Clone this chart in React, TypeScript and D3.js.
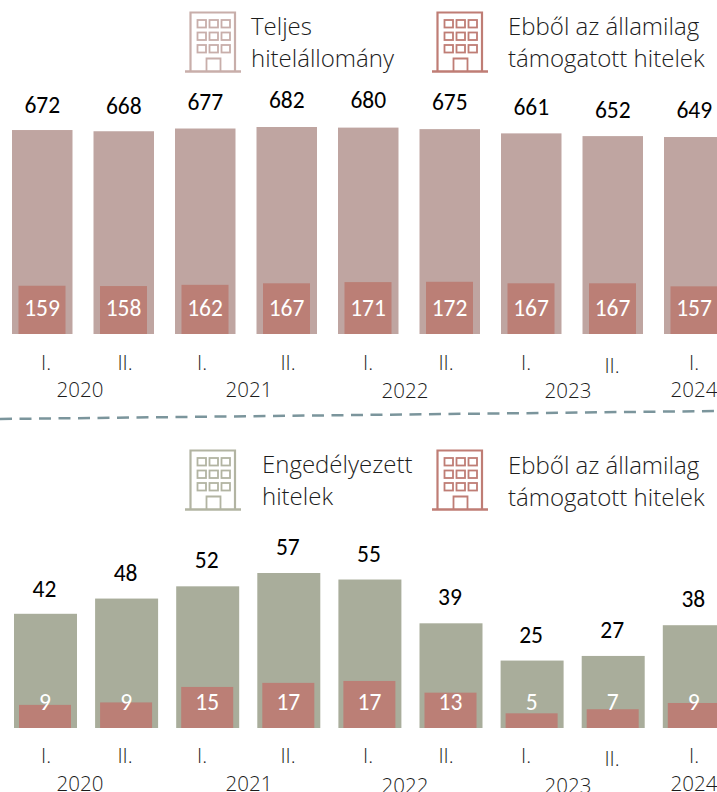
import React from "react";
import * as d3 from "d3";

const periods = ["2020 I.", "2020 II.", "2021 I.", "2021 II.", "2022 I.", "2022 II.", "2023 I.", "2023 II.", "2024 I."];
const totalStock = [672, 668, 677, 682, 680, 675, 661, 652, 649];
const supportedStock = [159, 158, 162, 167, 171, 172, 167, 167, 157];
const approved = [42, 47.6, 52.1, 57, 54.6, 38.5, 24.8, 26.5, 37.8];
const supportedApproved = [8.5, 9.4, 15.1, 16.6, 17.3, 13, 5.4, 6.9, 9.2];
const halfLabels = ["I.", "II.", "I.", "II.", "I.", "II.", "I.", "II.", "I."];
const yearLabels = ["2020", "2021", "2022", "2023", "2024"];

const W = 717, H = 792;
const LABEL = "Carlito, Calibri, 'Open Sans', sans-serif";
const LIGHT = "'Open Sans', sans-serif";

const C = { total: "#bfa5a1", sup: "#bb7f76", appr: "#a9ad9b", legendTotal: "#c8aeaa", legendSup: "#bf7d75", legendAppr: "#b2b4a2", dash: "#7b959c", text: "#1c1c1c" };

function Building({ x, y, color }: { x: number; y: number; color: string }) {
  const win: React.ReactNode[] = [];
  for (let r = 0; r < 3; r++) for (let c = 0; c < 3; c++)
    win.push(<rect key={r + "-" + c} x={x + 12.5 + c * 12} y={y + 8 + r * 12.5} width={8.5} height={7.5} fill="none" stroke={color} strokeWidth={1.8} />);
  return (
    <g>
      <path d={`M${x + 5.5} ${y + 59}V${y + 0.5}H${x + 50}V${y + 59}`} fill="none" stroke={color} strokeWidth={2.2} />
      <path d={`M${x} ${y + 59.5}H${x + 56}`} stroke={color} strokeWidth={2.6} fill="none" />
      <path d={`M${x + 21.5} ${y + 59}V${y + 46.5}H${x + 35.5}V${y + 59}`} fill="none" stroke={color} strokeWidth={1.8} />
      {win}
    </g>
  );
}

function Panel({ outer, inner, outerColor, x0, step, barW, innerW, innerDx, base, scaleTop, domainMax, labelYs, innerLabelY, halfY, yearY, yearXs, halfXs }: any) {
  const y = d3.scaleLinear().domain([0, domainMax]).range([base, scaleTop]);
  const x = d3.scalePoint<string>().domain(periods).range([x0, x0 + step * (periods.length - 1)]);
  return (
    <g>
      {periods.map((p, i) => (
        <g key={p}>
          <rect x={x(p)} y={y(outer[i])} width={barW} height={base - y(outer[i])} fill={outerColor} />
          <rect x={x(p)! + innerDx} y={y(inner[i])} width={innerW} height={base - y(inner[i])} fill={C.sup} />
          <text x={x(p)! + barW / 2 + labelYs.dx} y={labelYs.y[i]} textAnchor="middle" fontFamily={LABEL} fontSize={23.5} fill="#000">{Math.round(outer[i])}</text>
          <text x={x(p)! + innerDx + innerW / 2} y={innerLabelY} textAnchor="middle" fontFamily={LABEL} fontSize={23.5} fill="#fff">{Math.round(inner[i])}</text>
          <text x={halfXs[i]} y={halfY[i]} textAnchor="middle" fontFamily={LIGHT} fontWeight={300} fontSize={20.5} fill={C.text}>{halfLabels[i]}</text>
        </g>
      ))}
      {yearLabels.map((t, i) => (
        <text key={t} x={yearXs[i]} y={yearY[i]} textAnchor="middle" fontFamily={LIGHT} fontWeight={300} fontSize={20.5} fill={C.text}>{t}</text>
      ))}
    </g>
  );
}

function Legend({ x, y, lines }: { x: number; y: number; lines: string[] }) {
  return (
    <text fontFamily={LIGHT} fontWeight={300} fontSize={24} fill={C.text}>
      {lines.map((l, i) => <tspan key={i} x={x} y={y + i * 31.5}>{l}</tspan>)}
    </text>
  );
}

export default function App() {
  return (
    <svg width={W} height={H} viewBox={`0 0 ${W} ${H}`} style={{ position: "absolute", left: 0, top: 0 }}>
      <Building x={185} y={12} color={C.legendTotal} />
      <Legend x={251} y={35} lines={["Teljes", "hitelállomány"]} />
      <Building x={432} y={12} color={C.legendSup} />
      <Legend x={508} y={35} lines={["Ebből az államilag", "támogatott hitelek"]} />

      <Panel outer={totalStock} inner={supportedStock} outerColor={C.total}
        x0={12} step={81.5} barW={60.5} innerW={47} innerDx={6.5} base={334} scaleTop={127} domainMax={682}
        labelYs={{ dx: 0, y: [113, 114, 110, 108, 108, 110, 115, 118, 118] }} innerLabelY={316}
        halfXs={[46, 125, 202, 288, 368, 446, 526, 612, 694]}
        halfY={[370, 370, 370, 370, 370, 370, 370, 373, 370]}
        yearXs={[80, 249, 405, 568, 694]} yearY={[397, 397, 398, 398, 397]} />

      <path d="M0 419 L717 411" stroke={C.dash} strokeWidth={2.5} strokeDasharray="12 7.5" fill="none" />

      <Building x={185} y={450} color={C.legendAppr} />
      <Legend x={262} y={473} lines={["Engedélyezett", "hitelek"]} />
      <Building x={432} y={450} color={C.legendSup} />
      <Legend x={508} y={474} lines={["Ebből az államilag", "támogatott hitelek"]} />

      <Panel outer={approved} inner={supportedApproved} outerColor={C.appr}
        x0={14} step={81.1} barW={63} innerW={52} innerDx={5} base={728} scaleTop={573} domainMax={57}
        labelYs={{ dx: -1, y: [597, 581, 568, 555, 562, 605, 643, 638, 607] }} innerLabelY={710}
        halfXs={[46, 125, 202, 288, 368, 446, 526, 612, 694]}
        halfY={[763, 763, 763, 763, 763, 763, 763, 766, 763]}
        yearXs={[80, 249, 405, 568, 694]} yearY={[791, 791, 793, 793, 791]} />
    </svg>
  );
}
